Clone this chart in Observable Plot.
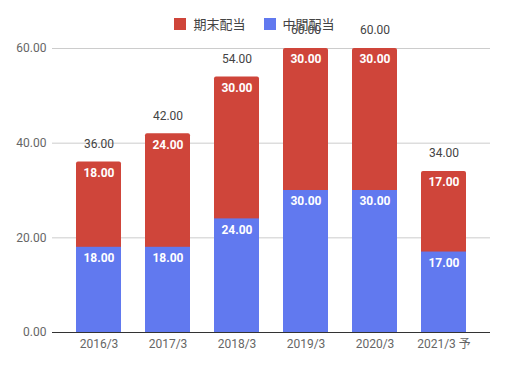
<!DOCTYPE html>
<html><head><meta charset="utf-8">
<script src="https://cdn.jsdelivr.net/npm/d3@7"></script>
<script src="https://cdn.jsdelivr.net/npm/@observablehq/plot@0.6"></script>
<style>
body{margin:0;background:#fff;font-family:Roboto,"Noto Sans CJK JP",sans-serif;}
#wrap{position:relative;width:509px;height:369px;}
#legend{position:absolute;top:14px;left:0;width:509px;display:flex;justify-content:center;gap:18px;font-size:13px;color:#444;font-family:Roboto,"Noto Sans CJK JP",sans-serif;}
#legend span.item{display:flex;align-items:center;gap:7px;}
#legend span.sw{display:inline-block;width:12px;height:12px;}
</style></head>
<body><div id="wrap"><div id="legend"></div></div>
<script>
const years = ["2016/3","2017/3","2018/3","2019/3","2020/3","2021/3 予"];
const interim = [18,18,24,30,30,17];   // 中間配当
const yearEnd = [18,24,30,30,30,17];   // 期末配当
const seriesNames = ["中間配当","期末配当"];
const colors = {"中間配当":"#6179ef","期末配当":"#cf453a"};

const rows = [];
years.forEach((y,i)=>rows.push({year:y, series:"中間配当", value:interim[i]}));
years.forEach((y,i)=>rows.push({year:y, series:"期末配当", value:yearEnd[i]}));
const totals = years.map((y,i)=>({year:y, total:interim[i]+yearEnd[i]}));
const fmt = d3.format(".2f");

const chart = Plot.plot({
  width:509, height:369,
  marginLeft:52, marginRight:19, marginTop:48, marginBottom:37,
  style:{fontFamily:'Roboto,"Noto Sans CJK JP",sans-serif', fontSize:"12px", color:"#666", background:"#fff"},
  x:{domain:years, paddingInner:0.35, paddingOuter:0.34, label:null, tickSize:0, tickPadding:7},
  y:{domain:[0,60], ticks:[0,20,40,60], tickFormat:fmt, label:null, tickSize:0, tickPadding:6},
  marks:[
    Plot.gridY([0,20,40,60], {stroke:"#ccc", strokeOpacity:1}),
    Plot.barY(totals, {x:"year", y:"total", fill:colors["期末配当"], rx:2}),
    Plot.barY(rows.filter(d=>d.series==="中間配当"), {x:"year", y:"value", fill:colors["中間配当"]}),
    Plot.ruleY([0], {stroke:"#333"}),
    Plot.text(rows, Plot.stackY2({x:"year", y:"value", z:"series", order:seriesNames, text:d=>fmt(d.value), dy:11, fill:"#fff", fontWeight:"bold", fontSize:12})),
    Plot.text(totals, {x:"year", y:"total", text:d=>fmt(d.total), dy:-18, fill:"#444", fontSize:12})
  ]
});
const wrap = document.getElementById("wrap");
wrap.insertBefore(chart, wrap.firstChild);
const legend = document.getElementById("legend");
["期末配当","中間配当"].forEach(n=>{
  const s=document.createElement("span"); s.className="item";
  s.innerHTML=`<span class="sw" style="background:${colors[n]}"></span><span>${n}</span>`;
  legend.appendChild(s);
});
</script></body></html>
